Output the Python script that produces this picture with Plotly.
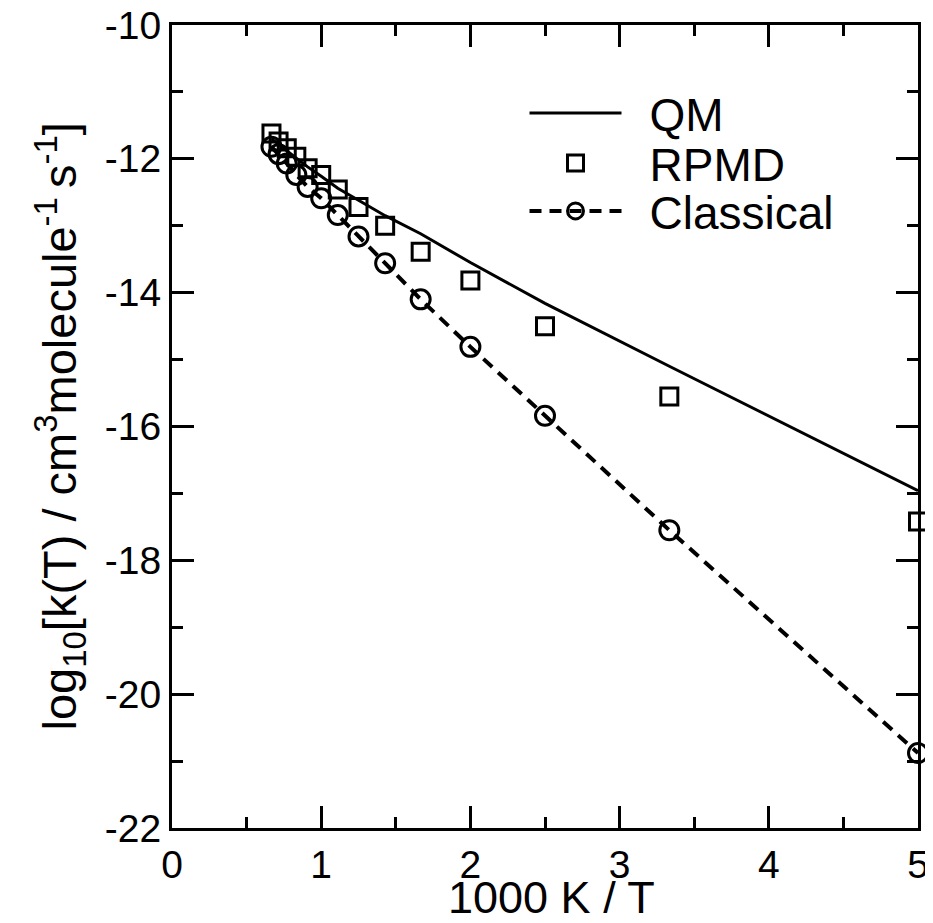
import plotly.graph_objects as go

# 1000 K / T values (T = 1500 ... 200 K)
inv_T = [0.6667, 0.7143, 0.7692, 0.8333, 0.9091, 1.0, 1.1111, 1.25, 1.4286, 1.6667, 2.0, 2.5, 3.3333, 5.0]

qm = [-11.70, -11.79, -11.88, -11.99, -12.12, -12.26, -12.44, -12.62, -12.85, -13.12, -13.55, -14.16, -15.10, -16.96]
rpmd = [-11.62, -11.74, -11.84, -11.97, -12.14, -12.24, -12.46, -12.72, -13.00, -13.39, -13.82, -14.50, -15.55, -17.42]
classical = [-11.82, -11.93, -12.07, -12.24, -12.42, -12.59, -12.84, -13.16, -13.56, -14.10, -14.81, -15.84, -17.55, -20.88]

x_ticks = [0, 1, 2, 3, 4, 5]
x_tick_labels = ["0", "1", "2", "3", "4", "5"]
y_ticks = [-22, -20, -18, -16, -14, -12, -10]
y_tick_labels = ["-22", "-20", "-18", "-16", "-14", "-12", "-10"]

FONT = "Liberation Sans, Arial, Helvetica, sans-serif"
PAGE_OFF = 8  # default body margin of the html page
W, H = 933 - PAGE_OFF, 923 - PAGE_OFF
# plot area in page pixels
PL, PR, PT, PB = 172, 918, 25, 828
PW, PH = PR - PL, PB - PT


def px_to_paper_y(py):
    return 1 - (py - PT) / PH


def px_to_paper_x(px):
    return (px - PL) / PW


fig = go.Figure()
fig.add_trace(go.Scatter(
    x=inv_T, y=qm, mode="lines", name="\u2002QM", legend="legend",
    line=dict(color="black", width=3), cliponaxis=False))
fig.add_trace(go.Scatter(
    x=inv_T, y=rpmd, mode="markers", name="\u2002RPMD", legend="legend2",
    marker=dict(symbol="square-open", size=17, color="black", line=dict(width=3)),
    cliponaxis=False))
fig.add_trace(go.Scatter(
    x=inv_T, y=classical, mode="lines+markers", name="\u2002Classical", legend="legend3",
    line=dict(color="black", width=4, dash="12px,8px"),
    marker=dict(symbol="circle-open", size=19, color="black", line=dict(width=3)),
    cliponaxis=False))

axis_common = dict(
    showline=True, linecolor="black", linewidth=3, mirror="allticks",
    ticks="inside", ticklen=22, tickwidth=3, tickcolor="black",
    showgrid=False, zeroline=False, automargin=False,
    ticklabeloverflow="allow",
    tickfont=dict(family=FONT, size=39, color="black"),
)

fig.update_xaxes(
    range=[0, 5], tickvals=x_ticks, ticktext=x_tick_labels,
    minor=dict(ticks="inside", ticklen=11, tickwidth=3, dtick=0.5, tickcolor="black"),
    **axis_common)
fig.update_yaxes(
    range=[-22, -10], tickvals=y_ticks, ticktext=y_tick_labels,
    minor=dict(ticks="inside", ticklen=11, tickwidth=3, dtick=1, tickcolor="black"),
    **axis_common)

# axis titles
fig.add_annotation(
    text="1000 K / T", xref="paper", yref="paper",
    x=px_to_paper_x(551), y=px_to_paper_y(898), xanchor="center", yanchor="middle",
    showarrow=False, font=dict(family=FONT, size=45, color="black"))
fig.add_annotation(
    text="log<sub>10</sub>[k(T) / cm<sup>3</sup>molecule<sup>-1 </sup>s<sup>-1</sup>]",
    xref="paper", yref="paper", textangle=-90,
    x=px_to_paper_x(60), y=0.5, xanchor="center", yanchor="middle",
    showarrow=False, font=dict(family=FONT, size=47, color="black"))

leg_common = dict(
    xanchor="left", yanchor="middle", bgcolor="rgba(0,0,0,0)", borderwidth=0,
    font=dict(family=FONT, size=46, color="black"), itemwidth=92,
)
lx = px_to_paper_x(524.5)
fig.update_layout(
    width=W, height=H,
    margin=dict(l=PL - PAGE_OFF, r=W + PAGE_OFF - PR, t=PT - PAGE_OFF, b=H + PAGE_OFF - PB),
    paper_bgcolor="white", plot_bgcolor="white",
    showlegend=True,
    legend=dict(x=lx, y=px_to_paper_y(113), **leg_common),
    legend2=dict(x=lx, y=px_to_paper_y(163), **leg_common),
    legend3=dict(x=lx, y=px_to_paper_y(211), **leg_common),
)

fig.write_html("out.html")
